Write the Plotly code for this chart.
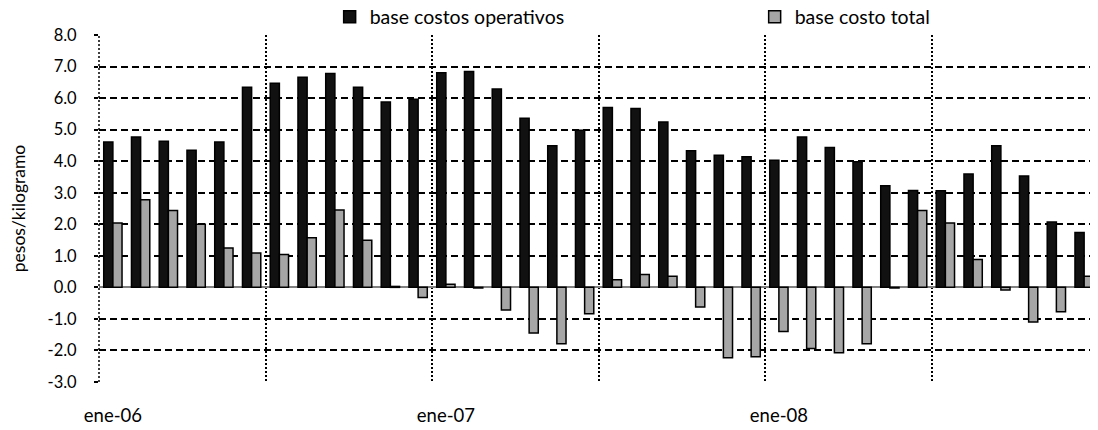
import plotly.graph_objects as go

# monthly series, ene-06 .. dic-08
months = [
    "ene-06", "feb-06", "mar-06", "abr-06", "may-06", "jun-06",
    "jul-06", "ago-06", "sep-06", "oct-06", "nov-06", "dic-06",
    "ene-07", "feb-07", "mar-07", "abr-07", "may-07", "jun-07",
    "jul-07", "ago-07", "sep-07", "oct-07", "nov-07", "dic-07",
    "ene-08", "feb-08", "mar-08", "abr-08", "may-08", "jun-08",
    "jul-08", "ago-08", "sep-08", "oct-08", "nov-08", "dic-08",
]
costos_operativos = [
    4.61, 4.77, 4.63, 4.35, 4.61, 6.34,
    6.47, 6.66, 6.78, 6.34, 5.88, 5.96,
    6.80, 6.84, 6.29, 5.36, 4.49, 4.98,
    5.70, 5.67, 5.24, 4.33, 4.19, 4.14,
    4.03, 4.77, 4.43, 3.98, 3.22, 3.07,
    3.06, 3.59, 4.49, 3.53, 2.07, 1.74,
]
costo_total = [
    2.04, 2.78, 2.44, 2.00, 1.25, 1.09,
    1.04, 1.57, 2.45, 1.49, 0.03, -0.32,
    0.10, -0.02, -0.72, -1.45, -1.79, -0.84,
    0.24, 0.41, 0.35, -0.62, -2.23, -2.20,
    -1.40, -1.94, -2.07, -1.79, -0.02, 2.44,
    2.04, 0.88, -0.08, -1.10, -0.77, 0.35,
]
label_months = ["ene-06", "ene-07", "ene-08"]
y_ticks = list(range(-3, 9))

FONT = "Lato"
idx = list(range(len(months)))

fig = go.Figure()
fig.add_trace(go.Bar(
    x=idx, y=costos_operativos, name="base costos operativos",
    marker=dict(color="#111111", line=dict(color="#000000", width=1.5)),
))
fig.add_trace(go.Bar(
    x=idx, y=costo_total, name="base costo total",
    marker=dict(color="#a6a6a6", line=dict(color="#000000", width=1.5)),
))
# invisible trace only to carry the label axis
fig.add_trace(go.Scatter(x=idx, y=[None] * len(idx), xaxis="x2",
                         showlegend=False, hoverinfo="skip"))

# vertical dotted lines every 6 months (category boundaries)
bounds = [i - 0.5 for i in range(0, len(months), 6)]

# dotted left border of the plot area
fig.add_shape(type="line", xref="paper", yref="paper", x0=0, x1=0, y0=0, y1=1,
              line=dict(color="#000000", width=1.5, dash="2px,2px"), layer="below")

# page body has an 8px margin, so the figure is sized to fill the rest
fig.update_layout(
    width=1090, height=422,
    plot_bgcolor="white", paper_bgcolor="white",
    margin=dict(l=91, r=0, t=27, b=48, autoexpand=False),
    barmode="group", bargap=0.34, bargroupgap=0,
    font=dict(family=FONT, size=15, color="#000000"),
    legend=dict(
        orientation="h", xref="container", yref="container",
        x=0.2951, y=0.9787, xanchor="left", yanchor="middle",
        entrywidth=380, entrywidthmode="pixels",
        font=dict(size=19.5), itemwidth=30,
        bgcolor="rgba(0,0,0,0)",
    ),
    xaxis=dict(
        range=[-0.5, len(months) - 0.5],
        tickmode="array", tickvals=bounds, showticklabels=False,
        showgrid=True, gridcolor="#000000", griddash="2px,2px", gridwidth=1.5,
        zeroline=False, showline=False, ticks="",
    ),
    xaxis2=dict(
        overlaying="x", matches="x", side="bottom", anchor="free",
        position=0, showgrid=False, zeroline=False, showline=False,
        tickmode="array",
        tickvals=[months.index(m) for m in label_months],
        ticktext=label_months, ticks="", ticklabelstandoff=20,
        tickfont=dict(size=18.5),
    ),
    yaxis=dict(
        range=[-3, 8], tickmode="array", tickvals=y_ticks,
        ticktext=[f"{v:.1f}" for v in y_ticks],
        showgrid=True, gridcolor="#000000", griddash="7px,4px", gridwidth=1.5,
        zeroline=True, zerolinecolor="#808080", zerolinewidth=1.5,
        showline=False,
        ticks="outside", ticklen=4, tickwidth=1.5, tickcolor="#000000",
        ticklabelstandoff=14,
        tickfont=dict(size=16.5),
        title=dict(text="pesos/kilogramo", font=dict(size=17.5), standoff=20),
    ),
)

fig.write_html("out.html")
